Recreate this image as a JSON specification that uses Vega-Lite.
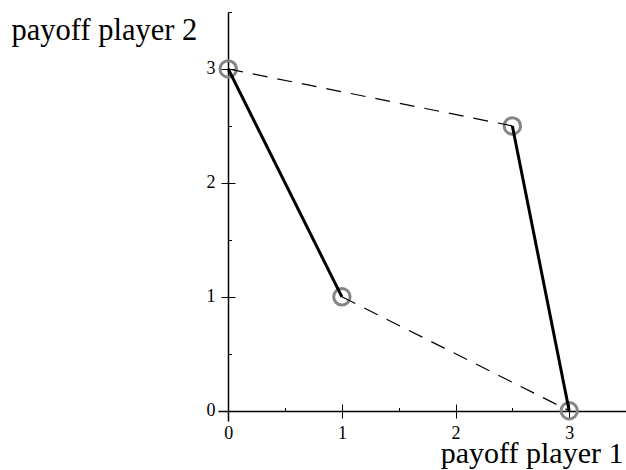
{
  "$schema": "https://vega.github.io/schema/vega-lite/v6.json",
  "autosize": "none",
  "padding": {"left": 218, "top": 12, "right": 0, "bottom": 49},
  "width": 408,
  "height": 409,
  "background": "white",
  "config": {
    "view": {"stroke": null},
    "font": "Liberation Serif",
    "axis": {"labelFont": "Liberation Serif", "titleFont": "Liberation Serif", "titleFontWeight": "normal", "labelColor": "black", "titleColor": "black", "domainColor": "black", "tickColor": "black", "grid": false}
  },
  "datasets": {
    "points": [
      {"p1": 0, "p2": 3},
      {"p1": 1, "p2": 1},
      {"p1": 2.5, "p2": 2.5},
      {"p1": 3, "p2": 0}
    ],
    "segments": [
      {"x1": 0, "y1": 3, "x2": 1, "y2": 1, "kind": "solid"},
      {"x1": 2.5, "y1": 2.5, "x2": 3, "y2": 0, "kind": "solid"},
      {"x1": 0, "y1": 3, "x2": 2.5, "y2": 2.5, "kind": "dashed"},
      {"x1": 1, "y1": 1, "x2": 3, "y2": 0, "kind": "dashed"}
    ]
  },
  "resolve": {"axis": {"x": "independent", "y": "independent"}},
  "layer": [
    {
      "data": {"name": "points"},
      "mark": {"type": "point", "filled": false, "size": 270, "strokeWidth": 3, "color": "#858585", "opacity": 1},
      "encoding": {
        "x": {
          "field": "p1", "type": "quantitative",
          "scale": {"domain": [-0.09, 3.5], "nice": false, "zero": false},
          "axis": {"orient": "top", "offset": -399, "domain": false, "labels": false, "title": null,
            "values": [0, 0.5, 1, 1.5, 2, 2.5, 3, 3.5],
            "tickWidth": 1,
            "tickSize": {"condition": {"test": "datum.value % 1 === 0", "value": 7}, "value": 3.5}}
        },
        "y": {
          "field": "p2", "type": "quantitative",
          "scale": {"domain": [-0.09, 3.5], "nice": false, "zero": false},
          "axis": {"orient": "right", "offset": -398, "domain": false, "labels": false, "title": null,
            "values": [0, 0.5, 1, 1.5, 2, 2.5, 3, 3.5],
            "tickWidth": 1,
            "tickSize": {"condition": {"test": "datum.value % 1 === 0", "value": 7}, "value": 3.5}}
        }
      }
    },
    {
      "data": {"name": "segments"},
      "mark": {"type": "rule", "color": "black"},
      "encoding": {
        "x": {
          "field": "x1", "type": "quantitative",
          "scale": {"domain": [-0.09, 3.5], "nice": false, "zero": false},
          "axis": {"orient": "bottom", "offset": -10, "domainWidth": 1.5,
            "values": [0, 0.5, 1, 1.5, 2, 2.5, 3, 3.5],
            "format": "d",
            "tickWidth": 1,
            "tickSize": {"condition": {"test": "datum.value % 1 === 0", "value": 7}, "value": 3.5},
            "labelExpr": "datum.value % 1 === 0 ? datum.label : ''",
            "labelFontSize": 18, "labelPadding": 6, "labelFlush": false, "labelOverlap": false, "labelBound": false,
            "title": "payoff player 1", "titleFontSize": 30, "titleAlign": "right", "titleBaseline": "alphabetic",
            "titleX": 405, "titleY": 51}
        },
        "y": {
          "field": "y1", "type": "quantitative",
          "scale": {"domain": [-0.09, 3.5], "nice": false, "zero": false},
          "axis": {"orient": "left", "offset": -10, "domainWidth": 1.5,
            "values": [0, 0.5, 1, 1.5, 2, 2.5, 3, 3.5],
            "format": "d",
            "tickWidth": 1,
            "tickSize": {"condition": {"test": "datum.value % 1 === 0", "value": 7}, "value": 3.5},
            "labelExpr": "datum.value % 1 === 0 ? datum.label : ''",
            "labelFontSize": 18, "labelPadding": 6, "labelFlush": false, "labelOverlap": false, "labelBound": false,
            "title": "payoff player 2", "titleFontSize": 30.5, "titleAngle": 0, "titleAlign": "left", "titleBaseline": "alphabetic",
            "titleX": -217, "titleY": 27}
        },
        "x2": {"field": "x2"},
        "y2": {"field": "y2"},
        "strokeDash": {"field": "kind", "type": "nominal", "scale": {"domain": ["solid", "dashed"], "range": [[1, 0], [15, 10]]}, "legend": null},
        "strokeWidth": {"field": "kind", "type": "nominal", "scale": {"domain": ["solid", "dashed"], "range": [3, 1.2]}, "legend": null}
      }
    }
  ]
}
